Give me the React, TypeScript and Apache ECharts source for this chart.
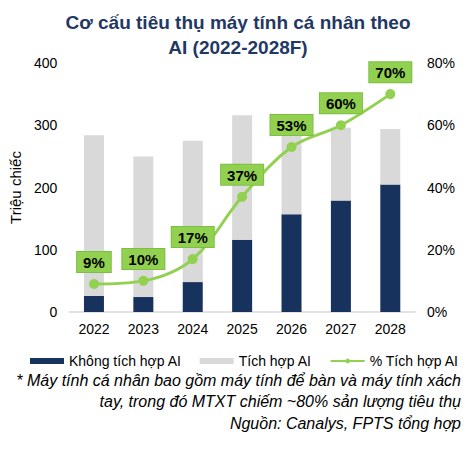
import React, { useEffect, useRef } from "react";
import * as echarts from "echarts";

const years = ["2022", "2023", "2024", "2025", "2026", "2027", "2028"];
const nonAI = [26, 24, 48, 116, 157, 179, 205];
const withAI = [258, 226, 227, 200, 139, 117, 89];
const pctAI = [9, 10, 17, 37, 53, 60, 70];
const leftTicks = { min: 0, max: 400, interval: 100 };
const rightTicks = { min: 0, max: 80, interval: 20 };
const titleLines = ["Cơ cấu tiêu thụ máy tính cá nhân theo", "AI (2022-2028F)"];
const notes = [
  "* Máy tính cá nhân bao gồm máy tính để bàn và máy tính xách",
  "tay, trong đó MTXT chiếm ~80% sản lượng tiêu thụ",
  "Nguồn: Canalys, FPTS tổng hợp",
];

const FONT = "'Liberation Sans', Arial, sans-serif";
const NAVY = "#17325C";
const GRAY = "#D9D9D9";
const GREEN = "#92D050";

export default function App() {
  const ref = useRef<HTMLDivElement>(null);
  useEffect(() => {
    document.body.style.margin = "0";
    const chart = echarts.init(ref.current!, null, { renderer: "svg" });
    chart.setOption({
      animation: false,
      textStyle: { fontFamily: FONT },
      grid: { left: 63, right: 61, top: 63, bottom: 138 },
      legend: {
        top: 349,
        left: 25,
        itemWidth: 34,
        itemHeight: 6,
        itemGap: 18,
        textStyle: { fontSize: 14, color: "#000", fontFamily: FONT },
        data: [
          { name: "Không tích hợp AI", icon: "rect" },
          { name: "Tích hợp AI", icon: "rect" },
          { name: "% Tích hợp AI" },
        ],
      },
      xAxis: {
        type: "category",
        data: years,
        axisTick: { show: false },
        axisLine: { lineStyle: { color: GRAY, width: 1.5 } },
        axisLabel: { color: "#000", fontSize: 14, margin: 10, fontFamily: FONT },
      },
      yAxis: [
        {
          type: "value",
          ...leftTicks,
          name: "Triệu chiếc",
          nameLocation: "middle",
          nameGap: 36,
          nameRotate: 90,
          nameTextStyle: { color: "#000", fontSize: 15, fontFamily: FONT },
          splitLine: { show: false },
          axisLine: { show: false },
          axisTick: { show: false },
          axisLabel: { color: "#000", fontSize: 14, margin: 12, fontFamily: FONT },
        },
        {
          type: "value",
          ...rightTicks,
          splitLine: { show: false },
          axisLine: { show: false },
          axisTick: { show: false },
          axisLabel: {
            color: "#000",
            fontSize: 14,
            margin: 12,
            formatter: "{value}%",
            fontFamily: FONT,
          },
        },
      ],
      series: [
        {
          name: "Không tích hợp AI",
          type: "bar",
          stack: "total",
          data: nonAI,
          barWidth: 20,
          itemStyle: { color: NAVY },
        },
        {
          name: "Tích hợp AI",
          type: "bar",
          stack: "total",
          data: withAI,
          barWidth: 20,
          itemStyle: { color: GRAY },
        },
        {
          name: "% Tích hợp AI",
          type: "line",
          yAxisIndex: 1,
          data: pctAI,
          smooth: 0.35,
          symbol: "circle",
          symbolSize: 10,
          lineStyle: { color: GREEN, width: 3 },
          itemStyle: { color: GREEN },
          z: 10,
          label: {
            show: true,
            position: "top",
            distance: 7,
            formatter: "{c}%",
            backgroundColor: GREEN,
            borderColor: "#7DBF45",
            borderWidth: 1,
            padding: [3, 6, 2, 6],
            color: "#000",
            fontWeight: "bold",
            fontSize: 15,
            fontFamily: FONT,
          },
        },
      ],
      graphic: [
        ...titleLines.map((t, i) => ({
          type: "text",
          x: 238,
          y: 13 + i * 25,
          style: {
            text: t,
            fontFamily: FONT,
            fontSize: 19,
            fontWeight: "bold",
            fill: "#1F3864",
            textAlign: "center",
          },
        })),
        ...notes.map((t, i) => ({
          type: "text",
          x: 461,
          y: 372 + i * 21.5,
          style: {
            text: t,
            fontFamily: FONT,
            fontSize: 16,
            fontStyle: "italic",
            fill: "#000",
            textAlign: "right",
          },
        })),
      ],
    });
    return () => chart.dispose();
  }, []);
  return <div ref={ref} style={{ width: 476, height: 450 }} />;
}
